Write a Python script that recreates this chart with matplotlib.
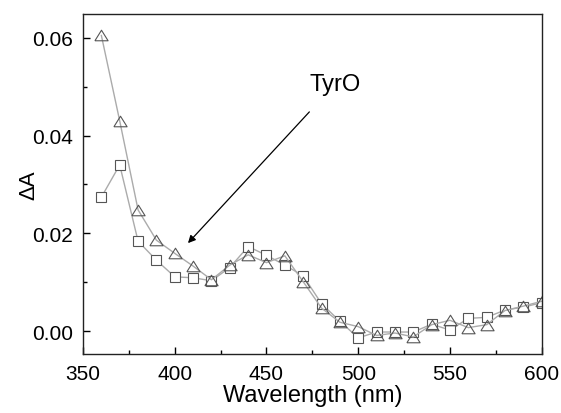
"""Transient absorption difference spectra (TyrO band)."""

import matplotlib
matplotlib.use("Agg")
import matplotlib.pyplot as plt
from matplotlib.ticker import MultipleLocator, FormatStrFormatter

# --- data ---------------------------------------------------------------------
wavelength = [360, 370, 380, 390, 400, 410, 420, 430, 440, 450, 460, 470, 480,
              490, 500, 510, 520, 530, 540, 550, 560, 570, 580, 590, 600]
dA_triangle = [0.0605, 0.0430, 0.0248, 0.0186, 0.0159, 0.0133, 0.0105, 0.0135,
               0.0156, 0.0140, 0.0154, 0.0101, 0.0047, 0.0018, 0.0009, -0.0009,
               -0.0004, -0.0012, 0.0013, 0.0022, 0.0007, 0.0013, 0.0042, 0.0051,
               0.0061]
dA_square = [0.0274, 0.0340, 0.0184, 0.0145, 0.0111, 0.0109, 0.0103, 0.0130,
             0.0173, 0.0155, 0.0135, 0.0113, 0.0056, 0.0020, -0.0014, -0.0002,
             -0.0002, -0.0002, 0.0014, 0.0002, 0.0026, 0.0028, 0.0043, 0.0049,
             0.0058]

LINE_COLOR = "#ababab"
EDGE_COLOR = "#555555"
# open triangle, a bit wider than tall like the Origin default
TRIANGLE = [(-1.0, -0.8), (1.0, -0.8), (0.0, 0.8), (-1.0, -0.8)]

plt.rcParams["font.family"] = ["Liberation Sans", "DejaVu Sans"]

fig = plt.figure(figsize=(5.61, 4.14), dpi=100)
ax = fig.add_axes([0.148, 0.1425, 0.8176, 0.8213])

ax.plot(wavelength, dA_square, color=LINE_COLOR, linewidth=1.0,
        marker="s", markersize=7.2, markerfacecolor="white",
        markeredgecolor=EDGE_COLOR, markeredgewidth=0.8)
ax.plot(wavelength, dA_triangle, color=LINE_COLOR, linewidth=1.0,
        marker=TRIANGLE, markersize=9.5, markerfacecolor="none",
        markeredgecolor=EDGE_COLOR, markeredgewidth=0.8)

ax.annotate("TyrO", xy=(407.2, 0.0180), xytext=(487.5, 0.0506),
            fontsize=17, ha="center", va="center",
            arrowprops=dict(arrowstyle="-|>", color="black", lw=0.9,
                            shrinkA=14, shrinkB=0, mutation_scale=11))

ax.set_xlim(350, 600)
ax.set_ylim(-0.0047, 0.0649)
ax.xaxis.set_major_locator(MultipleLocator(50))
ax.xaxis.set_minor_locator(MultipleLocator(25))
ax.yaxis.set_major_locator(MultipleLocator(0.02))
ax.yaxis.set_minor_locator(MultipleLocator(0.01))
ax.yaxis.set_major_formatter(FormatStrFormatter("%.2f"))
ax.tick_params(which="both", direction="in", top=False, right=False,
               labelsize=15, width=1.0)
ax.tick_params(which="major", length=5, pad=7)
ax.tick_params(which="minor", length=3)
for spine in ax.spines.values():
    spine.set_linewidth(1.0)
    spine.set_color("#222222")

ax.set_xlabel("Wavelength (nm)", fontsize=17, labelpad=1)
ax.set_ylabel("ΔA", fontsize=16)
ax.yaxis.set_label_coords(-0.096, 0.5)

fig.savefig("out.png", dpi=100)
